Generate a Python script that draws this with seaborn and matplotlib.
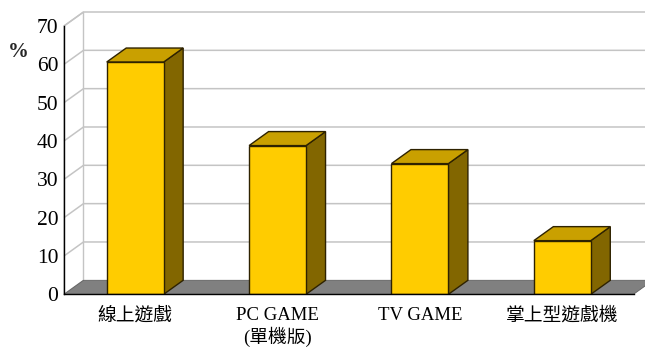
import matplotlib
matplotlib.use("Agg")
import matplotlib.pyplot as plt
import seaborn as sns
from matplotlib.patches import Polygon

categories = ["線上遊戲", "PC GAME\n(單機版)", "TV GAME", "掌上型遊戲機"]
values = [60.6, 38.8, 34.1, 14.0]
yticks = [0, 10, 20, 30, 40, 50, 60, 70]

sns.set_theme(style="white")
plt.rcParams['font.family'] = ['Liberation Serif', 'Noto Sans CJK TC', 'DejaVu Sans']

W, H = 645, 349
fig = plt.figure(figsize=(W / 100, H / 100), dpi=100)
x_left, x_right = 64, 633.5
y_zero, y_top = 294.3, 26
ax = fig.add_axes([x_left / W, 1 - y_zero / H, (x_right - x_left) / W, (y_zero - y_top) / H])

front = "#FFCC00"
top_c = "#C9A000"
side_c = "#826600"
edge = "#2e2200"

sns.barplot(x=categories, y=values, color=front, width=0.4, edgecolor=edge,
            linewidth=1.0, saturation=1, ax=ax)
ax.set_xlim(-0.5, 3.5)
ax.set_ylim(0, 70)

# depth offsets (pixels -> data)
dx_px, dy_px = 19.5, 14.0
dx = dx_px / ((x_right - x_left) / 4)
dy = dy_px / ((y_zero - y_top) / 70)

grid_c = "#c4c4c4"
# back wall and left wall
ax.add_patch(Polygon([(-0.5 + dx, dy), (3.5 + dx, dy), (3.5 + dx, 70 + dy), (-0.5 + dx, 70 + dy)],
                     closed=True, facecolor="white", edgecolor="none", zorder=0.1, clip_on=False))
ax.add_patch(Polygon([(-0.5, 0), (-0.5 + dx, dy), (-0.5 + dx, 70 + dy), (-0.5, 70)],
                     closed=True, facecolor="white", edgecolor=grid_c, lw=1, zorder=0.15, clip_on=False))
for v in yticks[1:]:
    ax.plot([-0.5, -0.5 + dx, 3.5 + dx], [v, v + dy, v + dy], color=grid_c, lw=1.1,
            zorder=0.2, clip_on=False, solid_capstyle="butt")
# floor
ax.add_patch(Polygon([(-0.5, 0), (3.5, 0), (3.5 + dx, dy), (-0.5 + dx, dy)],
                     closed=True, facecolor="#808080", edgecolor="#606060", lw=0.6, zorder=0.3,
                     clip_on=False))

bars = list(ax.patches[:len(values)])
for p in bars:
    x0, w, h = p.get_x(), p.get_width(), p.get_height()
    ax.add_patch(Polygon([(x0 + w, 0), (x0 + w + dx, dy), (x0 + w + dx, h + dy), (x0 + w, h)],
                         closed=True, facecolor=side_c, edgecolor=edge, lw=1.0, zorder=1.2,
                         clip_on=False))
    ax.add_patch(Polygon([(x0, h), (x0 + w, h), (x0 + w + dx, h + dy), (x0 + dx, h + dy)],
                         closed=True, facecolor=top_c, edgecolor=edge, lw=1.0, zorder=1.2,
                         clip_on=False))
    p.set_zorder(1.5)

for s in ["top", "right"]:
    ax.spines[s].set_visible(False)
for s in ["left", "bottom"]:
    ax.spines[s].set_color("black")
    ax.spines[s].set_linewidth(1.0)
    ax.spines[s].set_zorder(2)

ax.set_yticks(yticks)
ax.set_yticklabels([str(v) for v in yticks])
ax.tick_params(axis="y", direction="in", length=3, width=1, color="black", pad=4,
               labelsize=15.5, labelcolor="black")
ax.set_xticks(range(len(categories)))
ax.set_xticklabels(categories)
ax.tick_params(axis="x", length=0, pad=9, labelsize=13.5, labelcolor="black")
ax.set_xticks([-0.5, 0.5, 1.5, 2.5, 3.5], minor=True)
ax.tick_params(axis="x", which="minor", direction="in", length=4, width=1, color="black")
for t in ax.get_xticklabels():
    t.set_linespacing(1.2)
ax.set_xlabel("")
ax.set_ylabel("")
ax.grid(False)

fig.text(18 / W, 1 - 52 / H, "%", fontsize=15, fontweight="bold", ha="center", va="center",
         family=['Liberation Serif', 'DejaVu Sans'])

fig.savefig("out.png", dpi=100, facecolor="white")
